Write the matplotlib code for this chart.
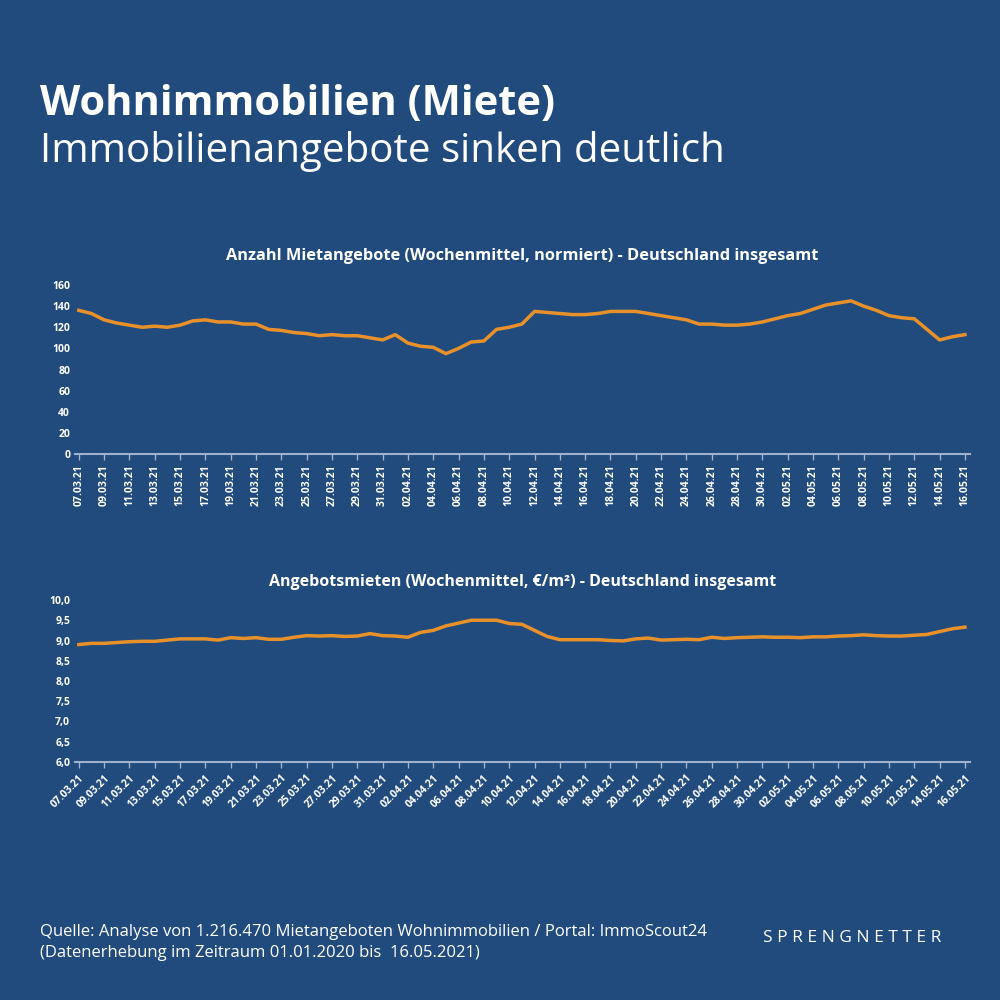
import numpy as np
import pandas as pd
import matplotlib.pyplot as plt
import matplotlib.ticker as mticker

dates = pd.date_range("2021-03-07", "2021-05-16", freq="D")

angebote = [136, 133, 127, 124, 122, 120, 121, 120, 122, 126, 127, 125, 125, 123, 123,
            118, 117, 115, 114, 112, 113, 112, 112, 110, 108,
            113, 105, 102, 101, 95, 100, 106, 107, 118, 120, 123, 135, 134, 133, 132,
            132, 133, 135, 135, 135, 133, 131, 129, 127, 123, 123, 122, 122, 123, 125,
            128, 131, 133, 137, 141, 143, 145, 140, 136, 131, 129, 128, 118, 108, 111, 113]

mieten = [8.90, 8.93, 8.93, 8.95, 8.97, 8.98, 8.98, 9.01, 9.04, 9.04, 9.04, 9.01, 9.07,
          9.05, 9.07, 9.03, 9.03, 9.08, 9.12, 9.11, 9.12, 9.10, 9.11, 9.17, 9.12,
          9.11, 9.08, 9.20, 9.25, 9.36, 9.43, 9.50, 9.50, 9.50, 9.42, 9.40, 9.25, 9.10,
          9.02, 9.02, 9.02, 9.02, 9.00, 8.99, 9.04, 9.06, 9.01, 9.02, 9.03, 9.02, 9.08,
          9.05, 9.07, 9.08, 9.09,
          9.08, 9.08, 9.07, 9.09, 9.09, 9.11, 9.12, 9.14, 9.12, 9.11, 9.11, 9.13, 9.15,
          9.22, 9.29, 9.33]

bg = "#214a7d"
orange = "#e8912b"
plt.rcParams["font.family"] = ["Open Sans", "DejaVu Sans"]

fig = plt.figure(figsize=(10, 10), dpi=100, facecolor=bg)
fig.text(0.04, 0.885, "Wohnimmobilien (Miete)", color="white", fontsize=30, fontweight="bold")
fig.text(0.04, 0.838, "Immobilienangebote sinken deutlich", color="white", fontsize=29)

x = np.arange(len(dates))
labels = [d.strftime("%d.%m.%y") for d in dates]


def style(ax, rot, ha):
    ax.set_facecolor(bg)
    for s in ["top", "right", "left"]:
        ax.spines[s].set_visible(False)
    ax.spines["bottom"].set_color("#9fb3cf")
    ax.spines["bottom"].set_linewidth(1.5)
    ax.set_xlim(-0.3, len(x) - 0.6)
    ax.set_xticks(x[::2])
    ax.set_xticklabels(labels[::2], rotation=rot, ha=ha, rotation_mode="anchor" if rot == 45 else "default")
    ax.tick_params(axis="x", colors="#9fb3cf", labelcolor="white", labelsize=7.5, length=4, width=1)
    ax.tick_params(axis="y", length=0, labelcolor="white", labelsize=7.5)
    for t in ax.get_xticklabels() + ax.get_yticklabels():
        t.set_fontweight("bold")


ax1 = fig.add_axes([0.075, 0.546, 0.895, 0.169])
ax1.plot(x, angebote, color=orange, lw=2.5)
ax1.set_ylim(0, 160)
ax1.set_yticks(range(0, 161, 20))
style(ax1, 90, "center")
ax1.set_title("Anzahl Mietangebote (Wochenmittel, normiert) - Deutschland insgesamt",
              color="white", fontsize=11.8, fontweight="bold", pad=18)

ax2 = fig.add_axes([0.075, 0.238, 0.895, 0.162])
ax2.plot(x, mieten, color=orange, lw=2.5)
ax2.set_ylim(6, 10)
ax2.set_yticks(np.arange(6, 10.01, 0.5))
ax2.yaxis.set_major_formatter(mticker.FuncFormatter(lambda v, p: f"{v:.1f}".replace(".", ",")))
style(ax2, 45, "right")
ax2.set_title("Angebotsmieten (Wochenmittel, €/m²) - Deutschland insgesamt",
              color="white", fontsize=11.5, fontweight="bold", pad=10)

fig.text(0.04, 0.043, "Quelle: Analyse von 1.216.470 Mietangeboten Wohnimmobilien / Portal: ImmoScout24\n"
         "(Datenerhebung im Zeitraum 01.01.2020 bis  16.05.2021)", color="white", fontsize=12,
         linespacing=1.45)
fig.text(0.763, 0.058, "S P R E N G N E T T E R", color="white", fontsize=12.5)

fig.savefig("out.png", facecolor=bg)
